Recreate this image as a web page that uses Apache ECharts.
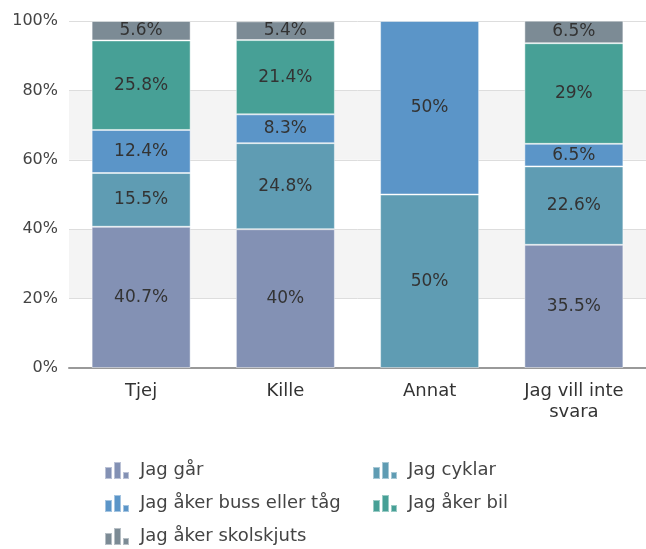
<!DOCTYPE html>
<html>
<head>
<meta charset="utf-8">
<script src="https://cdn.jsdelivr.net/npm/echarts@6/dist/echarts.min.js"></script>
<style>
  html, body { margin: 0; padding: 0; background: #fff; }
  #chart { width: 646px; height: 549px; }
</style>
</head>
<body>
<div id="chart"></div>
<script>
// kategorier och andelar (%) per färdsätt
const categories = ['Tjej', 'Kille', 'Annat', 'Jag vill inte\nsvara'];
const jagGar = [40.7, 40, null, 35.5];
const jagCyklar = [15.5, 24.8, 50, 22.6];
const jagBuss = [12.4, 8.3, 50, 6.5];
const jagBil = [25.8, 21.4, null, 29];
const jagSkolskjuts = [5.6, 5.4, null, 6.5];
const yTicks = [0, 20, 40, 60, 80, 100];

const seriesNames = ['Jag går', 'Jag cyklar', 'Jag åker buss eller tåg', 'Jag åker bil', 'Jag åker skolskjuts'];
const seriesData = [jagGar, jagCyklar, jagBuss, jagBil, jagSkolskjuts];
const colors = ['#8391b4', '#5f9cb3', '#5b95c8', '#47a096', '#7c8b95'];

const font = 'DejaVu Sans';
const barIcon = 'path://M0,5h7v12h-7z M9,0h7v17h-7z M18,10h6v7h-6z';

const chart = echarts.init(document.getElementById('chart'));

const legendBase = {
    orient: 'vertical',
    top: 461,
    height: 88,
    padding: 0,
    itemGap: 14,
    itemWidth: 24,
    itemHeight: 17,
    icon: barIcon,
    textStyle: { color: '#444', fontFamily: font, fontSize: 18, padding: [0, 0, 0, 6] }
};

const option = {
    backgroundColor: '#fff',
    animation: false,
    color: colors,
    grid: { left: 69, width: 580, top: 21, height: 347, containLabel: false },
    xAxis: {
        type: 'category',
        data: categories,
        axisLine: { lineStyle: { color: '#999', width: 2 } },
        axisTick: { show: false },
        axisLabel: { color: '#333', fontFamily: font, fontSize: 18, margin: 13, lineHeight: 21 }
    },
    yAxis: {
        type: 'value',
        min: yTicks[0],
        max: yTicks[yTicks.length - 1],
        interval: 20,
        axisLine: { show: false },
        axisTick: { show: false },
        axisLabel: { color: '#444', fontFamily: font, fontSize: 16, margin: 11, formatter: '{value}%' },
        splitLine: { lineStyle: { color: '#ddd', width: 1 } },
        splitArea: { show: true, areaStyle: { color: ['#ffffff', '#f4f4f4'] } }
    },
    legend: [
        Object.assign({}, legendBase, { data: [seriesNames[0], seriesNames[2], seriesNames[4]], left: 104 }),
        Object.assign({}, legendBase, { data: [seriesNames[1], seriesNames[3]], left: 372 })
    ],
    series: seriesNames.map((name, i) => ({
        name: name,
        type: 'bar',
        stack: 'total',
        barWidth: 99,
        data: seriesData[i],
        itemStyle: { borderColor: 'rgba(255,255,255,0.45)', borderWidth: 1 },
        label: {
            show: true,
            position: 'inside',
            color: '#333',
            fontFamily: font,
            fontSize: 17,
            formatter: p => p.value + '%'
        }
    }))
};

chart.setOption(option);
</script>
</body>
</html>
